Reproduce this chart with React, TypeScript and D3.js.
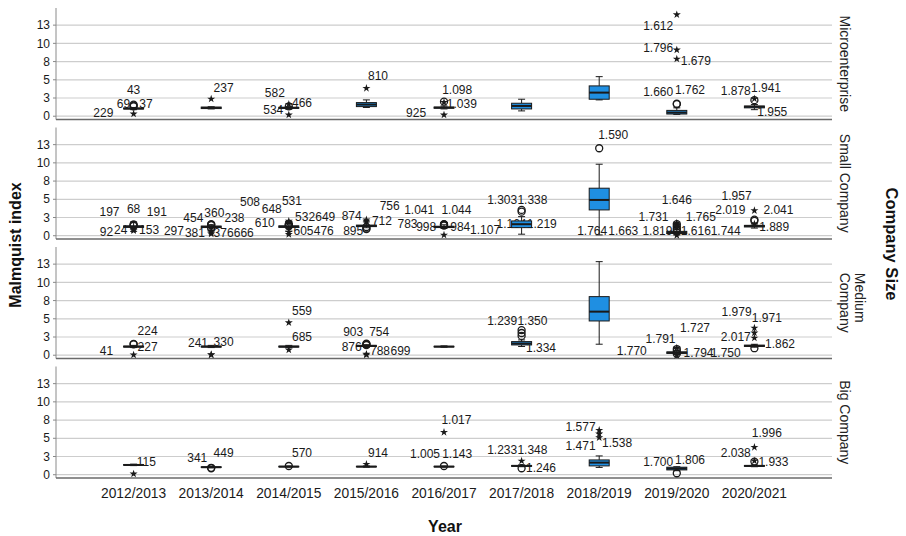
import React from 'react';
import * as d3 from 'd3';

const years = ['2012/2013', '2013/2014', '2014/2015', '2015/2016', '2016/2017', '2017/2018', '2018/2019', '2019/2020', '2020/2021'];
const companySizes = ['Microenterprise', 'Small Company', 'Medium Company', 'Big Company'];
const stripLines = [['Microenterprise'], ['Small Company'], ['Medium', 'Company'], ['Big Company']];
const yTicks = [0, 2.5, 5, 7.5, 10, 12.5];
const yDomain = [-0.45, 14.85];

// [lower whisker, Q1, median, Q3, upper whisker] per year
const microBoxes = [
  [0.9, 1.0, 1.05, 1.12, 1.2],
  [1.0, 1.05, 1.15, 1.25, 1.3],
  [0.95, 1.08, 1.15, 1.22, 1.35],
  [1.2, 1.32, 1.6, 1.87, 2.24],
  [1.0, 1.1, 1.18, 1.25, 1.4],
  [0.73, 1.0, 1.41, 1.78, 2.33],
  [2.24, 2.33, 3.24, 4.16, 5.43],
  [0.25, 0.3, 0.5, 0.8, 1.15],
  [0.9, 1.15, 1.3, 1.4, 1.6],
];
const smallBoxes = [
  [0.6, 1.15, 1.25, 1.35, 1.9],
  [0.9, 1.12, 1.22, 1.32, 1.5],
  [0.6, 1.15, 1.25, 1.35, 1.95],
  [1.1, 1.25, 1.35, 1.45, 1.9],
  [1.0, 1.12, 1.2, 1.3, 1.5],
  [0.21, 1.11, 1.58, 2.03, 2.62],
  [0.11, 3.54, 4.91, 6.52, 9.81],
  [0.1, 0.3, 0.45, 0.6, 0.9],
  [1.05, 1.2, 1.34, 1.42, 1.6],
];
const mediumBoxes = [
  [1.05, 1.12, 1.18, 1.25, 1.35],
  [1.05, 1.12, 1.18, 1.25, 1.35],
  [1.05, 1.12, 1.18, 1.25, 1.35],
  [1.1, 1.2, 1.28, 1.35, 1.45],
  [1.1, 1.14, 1.18, 1.22, 1.28],
  [1.2, 1.41, 1.6, 1.87, 2.1],
  [1.51, 4.7, 5.98, 8.04, 12.84],
  [0.1, 0.25, 0.36, 0.45, 0.6],
  [1.1, 1.2, 1.28, 1.38, 1.5],
];
const bigBoxes = [
  [1.25, 1.3, 1.34, 1.4, 1.45],
  [0.95, 1.0, 1.03, 1.08, 1.12],
  [1.05, 1.08, 1.11, 1.15, 1.2],
  [1.05, 1.08, 1.11, 1.15, 1.2],
  [1.05, 1.08, 1.11, 1.15, 1.2],
  [1.1, 1.15, 1.21, 1.27, 1.35],
  [1.0, 1.21, 1.66, 2.03, 2.58],
  [0.55, 0.66, 0.85, 1.03, 1.1],
  [1.1, 1.15, 1.21, 1.27, 1.35],
];

// outlier markers: [year index, value, kind] — 'o' outlier, '*' extreme
const microMarks = [
  [0, 1.6, 'o'], [0, 1.45, 'o'], [0, 1.35, 'o'], [0, 0.32, '*'],
  [1, 2.37, '*'],
  [2, 1.35, 'o'], [2, 1.65, '*'], [2, 0.18, '*'],
  [3, 3.84, '*'],
  [4, 2.0, 'o'], [4, 1.9, '*'], [4, 0.18, '*'],
  [7, 13.94, '*'], [7, 9.1, '*'], [7, 7.86, '*'], [7, 1.72, 'o'], [7, 1.65, 'o'],
  [8, 2.2, 'o'], [8, 2.4, '*'],
];
const smallMarks = [
  [0, 1.55, 'o'], [0, 1.45, 'o'], [0, 1.35, 'o'], [0, 0.85, '*'], [0, 0.7, '*'], [0, 0.95, '*'],
  [1, 1.6, 'o'], [1, 1.45, 'o'], [1, 1.5, 'o'], [1, 1.0, 'o'], [1, 0.25, '*'], [1, 0.4, '*'], [1, 0.6, '*'],
  [2, 1.5, 'o'], [2, 1.6, 'o'], [2, 1.4, 'o'], [2, 1.3, 'o'], [2, 2.0, '*'], [2, 1.8, '*'], [2, 0.2, '*'], [2, 0.5, '*'],
  [3, 1.0, 'o'], [3, 2.0, '*'], [3, 2.2, '*'], [3, 1.2, 'o'], [3, 0.9, 'o'],
  [4, 1.5, 'o'], [4, 1.6, 'o'], [4, 1.4, 'o'], [4, 1.55, 'o'], [4, 0.1, '*'],
  [5, 3.54, 'o'], [5, 3.3, 'o'],
  [6, 12.0, 'o'],
  [7, 1.6, 'o'], [7, 1.3, 'o'], [7, 1.0, 'o'], [7, 0.75, 'o'], [7, 1.75, '*'], [7, 1.45, '*'], [7, 1.15, '*'], [7, 0.05, '*'],
  [8, 3.45, '*'], [8, 2.2, 'o'], [8, 2.05, 'o'], [8, 1.6, '*'],
];
const mediumMarks = [
  [0, 1.5, 'o'], [0, 1.55, 'o'], [0, 0.05, '*'],
  [1, 0.05, '*'], [1, 0.1, '*'],
  [2, 4.47, '*'], [2, 0.73, '*'],
  [3, 1.51, 'o'], [3, 1.6, 'o'], [3, 1.4, 'o'], [3, 0.04, '*'], [3, 0.15, '*'],
  [5, 3.45, 'o'], [5, 3.05, 'o'], [5, 2.65, 'o'],
  [7, 0.2, 'o'], [7, 0.55, 'o'], [7, 0.85, 'o'], [7, 0.0, '*'], [7, 1.0, '*'],
  [8, 0.96, 'o'], [8, 3.74, '*'], [8, 3.06, '*'], [8, 2.37, '*'],
];
const bigMarks = [
  [0, 0.11, '*'],
  [1, 0.89, 'o'], [1, 0.95, 'o'],
  [2, 1.2, 'o'],
  [3, 1.44, '*'],
  [4, 1.2, 'o'], [4, 5.83, '*'],
  [5, 0.89, 'o'], [5, 1.89, '*'],
  [6, 6.1, '*'], [6, 5.6, '*'], [6, 5.1, '*'],
  [7, 0.2, 'o'],
  [8, 1.8, 'o'], [8, 1.9, '*'], [8, 3.77, '*'],
];

// case labels: [year index, text, offset in category steps, value at label centre]
const microLabels = [
  [0, '43', 0, 3.6], [0, '69', -0.13, 1.69], [0, '37', 0.16, 1.69], [0, '229', -0.39, 0.45],
  [1, '237', 0.16, 3.92],
  [2, '534', -0.2, 0.86], [2, '466', 0.17, 1.87], [2, '582', -0.18, 3.2],
  [3, '810', 0.15, 5.57],
  [4, '1.098', 0.17, 3.6], [4, '1.039', 0.23, 1.69], [4, '925', -0.36, 0.45],
  [7, '1.612', -0.24, 12.39], [7, '1.796', -0.24, 9.37], [7, '1.679', 0.245, 7.59], [7, '1.660', -0.24, 3.33], [7, '1.762', 0.17, 3.6],
  [8, '1.878', -0.24, 3.51], [8, '1.941', 0.15, 3.84], [8, '1.955', 0.23, 0.63],
];
const smallLabels = [
  [0, '68', 0, 3.64], [0, '197', -0.31, 3.31], [0, '191', 0.3, 3.31], [0, '24', -0.165, 0.8], [0, '92', -0.35, 0.56], [0, '153', 0.2, 0.8],
  [1, '360', 0.04, 3.09], [1, '454', -0.23, 2.48], [1, '238', 0.3, 2.48], [1, '381', -0.21, 0.43], [1, '297', -0.48, 0.66], [1, '376', 0.16, 0.43], [1, '666', 0.42, 0.43],
  [2, '531', 0.04, 4.81], [2, '648', -0.22, 3.64], [2, '508', -0.5, 4.68], [2, '610', -0.31, 1.71], [2, '532', 0.21, 2.62], [2, '649', 0.47, 2.62], [2, '605', 0.19, 0.66], [2, '476', 0.45, 0.66],
  [3, '895', -0.17, 0.66], [3, '874', -0.19, 2.72], [3, '712', 0.2, 2.03], [3, '756', 0.3, 4.09], [3, '783', 0.53, 1.58],
  [4, '1.041', -0.32, 3.54], [4, '1.044', 0.16, 3.54], [4, '998', -0.23, 1.25], [4, '984', 0.21, 1.25], [4, '1.107', 0.53, 0.8],
  [5, '1.303', -0.25, 4.91], [5, '1.338', 0.14, 4.91], [5, '1.164', -0.13, 1.62], [5, '1.219', 0.26, 1.62],
  [6, '1.590', 0.18, 13.83], [6, '1.764', -0.09, 0.66], [6, '1.663', 0.31, 0.66],
  [7, '1.646', 0, 4.91], [7, '1.731', -0.3, 2.62], [7, '1.765', 0.31, 2.62], [7, '1.819', -0.25, 0.66], [7, '1.616', 0.245, 0.66], [7, '1.744', 0.63, 0.66],
  [8, '1.957', -0.23, 5.46], [8, '2.019', -0.31, 3.54], [8, '2.041', 0.31, 3.54], [8, '1.889', 0.255, 1.25],
];
const mediumLabels = [
  [0, '224', 0.18, 3.37], [0, '227', 0.18, 1.18], [0, '41', -0.35, 0.59],
  [1, '241', -0.17, 1.65], [1, '330', 0.16, 1.87],
  [2, '559', 0.17, 6.08], [2, '685', 0.17, 2.55],
  [3, '903', -0.17, 3.24], [3, '754', 0.165, 3.24], [3, '876', -0.19, 1.18], [3, '788', 0.175, 0.59], [3, '699', 0.44, 0.59],
  [5, '1.239', -0.25, 4.7], [5, '1.350', 0.14, 4.7], [5, '1.334', 0.25, 0.96],
  [7, '1.770', -0.58, 0.59], [7, '1.791', -0.21, 2.24], [7, '1.727', 0.235, 3.7], [7, '1.794', 0.28, 0.36], [7, '1.750', 0.63, 0.36],
  [8, '1.979', -0.23, 5.98], [8, '1.971', 0.16, 5.16], [8, '2.017', -0.24, 2.55], [8, '1.862', 0.33, 1.51],
];
const bigLabels = [
  [0, '115', 0.165, 1.8],
  [1, '341', -0.18, 2.35], [1, '449', 0.16, 2.95],
  [2, '570', 0.17, 2.95],
  [3, '914', 0.15, 2.95],
  [4, '1.005', -0.245, 2.81], [4, '1.143', 0.17, 2.81], [4, '1.017', 0.16, 7.52],
  [5, '1.233', -0.25, 3.4], [5, '1.348', 0.14, 3.4], [5, '1.246', 0.25, 0.89],
  [6, '1.577', -0.24, 6.6], [6, '1.471', -0.24, 3.95], [6, '1.538', 0.23, 4.4],
  [7, '1.700', -0.24, 1.8], [7, '1.806', 0.17, 2.03],
  [8, '1.996', 0.16, 5.77], [8, '2.038', -0.24, 3.03], [8, '1.933', 0.245, 1.8],
];

const allBoxes = [microBoxes, smallBoxes, mediumBoxes, bigBoxes];
const allMarks = [microMarks, smallMarks, mediumMarks, bigMarks];
const allLabels = [microLabels, smallLabels, mediumLabels, bigLabels];

const FONT = '"Liberation Sans", Arial, Helvetica, sans-serif';
const BLUE = '#1f8fe2';
const INK = '#1a1a1a';

export default function App() {
  const W = 906;
  const H = 536;
  const left = 56;
  const right = 832;
  const panelTop0 = 8;
  const panelStep = 119.5;
  const panelH = 111.5;
  const boxW = 20;
  const capW = 7;

  const x = d3.scalePoint<string>().domain(years).range([left, right]).padding(1);
  const step = x.step();
  const starPath = d3.symbol().type(d3.symbolStar).size(20)() as string;

  return (
    <svg width={W} height={H} style={{ position: 'absolute', left: 0, top: 0, background: '#fff' }} fontFamily={FONT}>
      <rect width={W} height={H} fill="#fff" />
      {companySizes.map((size, pi) => {
        const top = panelTop0 + pi * panelStep;
        const bottom = top + panelH;
        const y = d3.scaleLinear().domain(yDomain).range([bottom, top]);
        const boxes = allBoxes[pi];
        const marks = allMarks[pi];
        const labels = allLabels[pi];
        const lines = stripLines[pi];
        const midY = (top + bottom) / 2;
        return (
          <g key={size}>
            {yTicks.map((t) => (
              <g key={t}>
                <line x1={left} x2={right} y1={y(t)} y2={y(t)} stroke="#cdcdcd" strokeWidth={1.2} />
                <line x1={left - 3} x2={left} y1={y(t)} y2={y(t)} stroke="#888" strokeWidth={1} />
                <text x={50} y={y(t)} dy="0.35em" textAnchor="end" fontSize={12} fill={INK}>
                  {Math.round(t)}
                </text>
              </g>
            ))}
            <line x1={left} x2={left} y1={top} y2={bottom} stroke="#8a8a8a" strokeWidth={1} />
            <line x1={left} x2={right} y1={bottom} y2={bottom} stroke="#6a6a6a" strokeWidth={1.3} />
            {labels.map((l, i) => {
              const [yi, txt, dx, v] = l as [number, string, number, number];
              return (
                <text key={'l' + i} x={(x(years[yi]) as number) + dx * step} y={y(v)} dy="0.35em" textAnchor="middle" fontSize={12} fill={INK}>
                  {txt}
                </text>
              );
            })}
            {boxes.map((b, i) => {
              const cx = x(years[i]) as number;
              const [lo, q1, med, q3, hi] = b;
              return (
                <g key={'b' + i}>
                  <line x1={cx} x2={cx} y1={y(hi)} y2={y(q3)} stroke={INK} strokeWidth={1} />
                  <line x1={cx} x2={cx} y1={y(q1)} y2={y(lo)} stroke={INK} strokeWidth={1} />
                  <line x1={cx - capW / 2} x2={cx + capW / 2} y1={y(hi)} y2={y(hi)} stroke={INK} strokeWidth={1} />
                  <line x1={cx - capW / 2} x2={cx + capW / 2} y1={y(lo)} y2={y(lo)} stroke={INK} strokeWidth={1} />
                  <rect x={cx - boxW / 2} width={boxW} y={y(q3)} height={Math.max(0.5, y(q1) - y(q3))} fill={BLUE} stroke={INK} strokeWidth={1} />
                  <line x1={cx - boxW / 2} x2={cx + boxW / 2} y1={y(med)} y2={y(med)} stroke={INK} strokeWidth={2} />
                </g>
              );
            })}
            {marks.map((m, i) => {
              const [yi, v, kind] = m as [number, number, string];
              const cx = x(years[yi]) as number;
              return kind === 'o' ? (
                <circle key={'m' + i} cx={cx} cy={y(v)} r={3.5} fill="none" stroke={INK} strokeWidth={1.3} />
              ) : (
                <path key={'m' + i} d={starPath} transform={`translate(${cx},${y(v)})`} fill={INK} />
              );
            })}
            {lines.length === 1 ? (
              <text transform={`translate(845,${midY}) rotate(90)`} textAnchor="middle" dy="0.35em" fontSize={14} fill="#222">
                {lines[0]}
              </text>
            ) : (
              lines.map((ln, li) => (
                <text
                  key={ln}
                  transform={`translate(${845 + (lines.length - 1 - li) * 15},${midY - 30}) rotate(90)`}
                  textAnchor="start"
                  dy="0.35em"
                  fontSize={14}
                  fill="#222"
                >
                  {ln}
                </text>
              ))
            )}
          </g>
        );
      })}
      {years.map((yr) => (
        <text key={yr} x={x(yr) as number} y={498} textAnchor="middle" fontSize={13.8} fill={INK}>
          {yr}
        </text>
      ))}
      <text x={445} y={532} textAnchor="middle" fontSize={16} fontWeight="bold" fill="#111">
        Year
      </text>
      <text transform="translate(15,245) rotate(-90)" textAnchor="middle" dy="0.35em" fontSize={16} fontWeight="bold" fill="#111">
        Malmquist index
      </text>
      <text transform="translate(892,244) rotate(90)" textAnchor="middle" dy="0.35em" fontSize={16.5} fontWeight="bold" fill="#111">
        Company Size
      </text>
    </svg>
  );
}
